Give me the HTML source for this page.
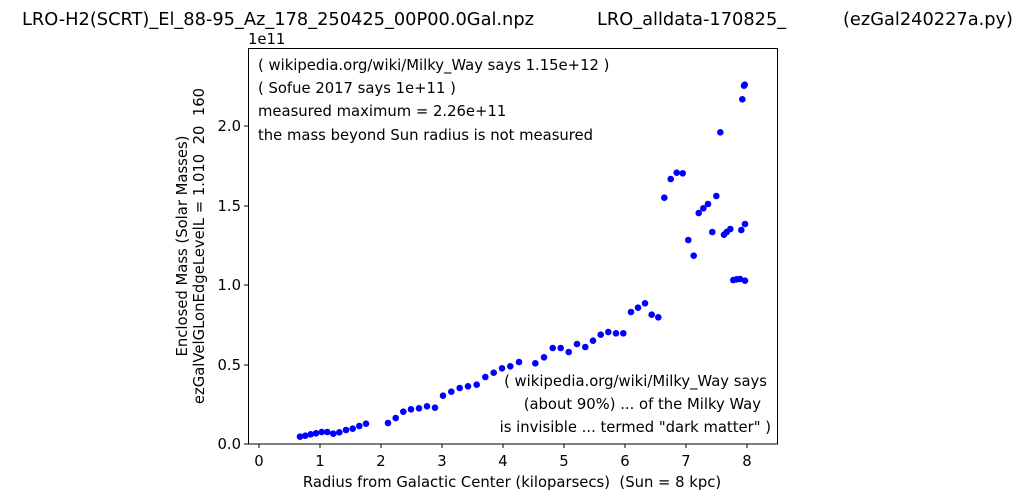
<!DOCTYPE html>
<html><head><meta charset="utf-8"><style>body{margin:0;background:#fff}svg{display:block}text{white-space:pre}</style></head><body>
<svg width="1024" height="501" xmlns="http://www.w3.org/2000/svg" font-family="DejaVu Sans, Liberation Sans, sans-serif" xml:space="preserve">
<rect width="1024" height="501" fill="#fff"/>
<text x="22" y="25" font-size="17.8">LRO-H2(SCRT)_El_88-95_Az_178_250425_00P00.0Gal.npz</text>
<text x="597" y="25" font-size="17.8">LRO_alldata-170825_</text>
<text x="843" y="25" font-size="17.8">(ezGal240227a.py)</text>
<rect x="248.5" y="48.5" width="529" height="395.5" fill="none" stroke="#000" stroke-width="1"/>
<g stroke="#000" stroke-width="1">
<line x1="259" y1="444" x2="259" y2="448"/><line x1="320" y1="444" x2="320" y2="448"/><line x1="381" y1="444" x2="381" y2="448"/><line x1="442" y1="444" x2="442" y2="448"/><line x1="503" y1="444" x2="503" y2="448"/><line x1="564" y1="444" x2="564" y2="448"/><line x1="625" y1="444" x2="625" y2="448"/><line x1="686" y1="444" x2="686" y2="448"/><line x1="747" y1="444" x2="747" y2="448"/>
<line x1="244" y1="444" x2="248" y2="444"/><line x1="244" y1="365" x2="248" y2="365"/><line x1="244" y1="285" x2="248" y2="285"/><line x1="244" y1="206" x2="248" y2="206"/><line x1="244" y1="126" x2="248" y2="126"/>
</g>
<g font-size="14.8" text-anchor="middle">
<text x="259" y="466">0</text><text x="320" y="466">1</text><text x="381" y="466">2</text><text x="442" y="466">3</text><text x="503" y="466">4</text><text x="564" y="466">5</text><text x="625" y="466">6</text><text x="686" y="466">7</text><text x="747" y="466">8</text>
</g>
<g font-size="14.8" text-anchor="end">
<text x="241" y="449">0.0</text><text x="241" y="370">0.5</text><text x="241" y="290">1.0</text><text x="241" y="211">1.5</text><text x="241" y="131">2.0</text>
</g>
<text x="248" y="44" font-size="14.8">1e11</text>
<text x="512" y="487" font-size="14.8" text-anchor="middle">Radius from Galactic Center (kiloparsecs)  (Sun = 8 kpc)</text>
<text transform="translate(187,246) rotate(-90)" font-size="14.8" text-anchor="middle">Enclosed Mass (Solar Masses)</text>
<text transform="translate(204,246) rotate(-90)" font-size="14.8" text-anchor="middle">ezGalVelGLonEdgeLevelL = 1.010  20  160</text>
<g font-size="14.8">
<text x="258" y="70">( wikipedia.org/wiki/Milky_Way says 1.15e+12 )</text>
<text x="258" y="93">( Sofue 2017 says 1e+11 )</text>
<text x="258" y="116">measured maximum = 2.26e+11</text>
<text x="258" y="140">the mass beyond Sun radius is not measured</text>
</g>
<g font-size="14.8" text-anchor="end">
<text x="767" y="386">( wikipedia.org/wiki/Milky_Way says</text>
<text x="761" y="409">(about 90%) ... of the Milky Way</text>
<text x="771" y="432">is invisible ... termed "dark matter" )</text>
</g>
<g fill="#0000ff">
<circle cx="300" cy="436.7" r="3.3"/><circle cx="305.3" cy="435.7" r="3.3"/><circle cx="310.7" cy="434.3" r="3.3"/><circle cx="316" cy="433.3" r="3.3"/><circle cx="321.7" cy="432" r="3.3"/><circle cx="327.3" cy="432" r="3.3"/><circle cx="333.3" cy="433.7" r="3.3"/><circle cx="339.3" cy="432.3" r="3.3"/><circle cx="346" cy="430" r="3.3"/><circle cx="352.7" cy="428.7" r="3.3"/><circle cx="359.3" cy="426" r="3.3"/><circle cx="366" cy="423.7" r="3.3"/><circle cx="388" cy="423" r="3.3"/><circle cx="395.7" cy="418" r="3.3"/><circle cx="403.3" cy="411.7" r="3.3"/><circle cx="411" cy="409.3" r="3.3"/><circle cx="419" cy="408.3" r="3.3"/><circle cx="427" cy="406.3" r="3.3"/><circle cx="435" cy="407.7" r="3.3"/><circle cx="443" cy="395.7" r="3.3"/><circle cx="451.3" cy="391.7" r="3.3"/><circle cx="459.7" cy="388" r="3.3"/><circle cx="468" cy="386.3" r="3.3"/><circle cx="476.7" cy="384.7" r="3.3"/><circle cx="485.3" cy="377" r="3.3"/><circle cx="493.7" cy="372.7" r="3.3"/><circle cx="502" cy="368.3" r="3.3"/><circle cx="510.3" cy="366.3" r="3.3"/><circle cx="519" cy="362" r="3.3"/><circle cx="535.3" cy="363.3" r="3.3"/><circle cx="544" cy="357.3" r="3.3"/><circle cx="552.7" cy="348" r="3.3"/><circle cx="560.7" cy="348" r="3.3"/><circle cx="568.7" cy="352" r="3.3"/><circle cx="577" cy="344" r="3.3"/><circle cx="585.3" cy="347" r="3.3"/><circle cx="593" cy="340.7" r="3.3"/><circle cx="600.7" cy="334.7" r="3.3"/><circle cx="608.3" cy="332" r="3.3"/><circle cx="616" cy="333.3" r="3.3"/><circle cx="623.3" cy="333.3" r="3.3"/><circle cx="631" cy="312" r="3.3"/><circle cx="638" cy="307.7" r="3.3"/><circle cx="645" cy="303.3" r="3.3"/><circle cx="651.7" cy="314.7" r="3.3"/><circle cx="658.3" cy="317.3" r="3.3"/>
<circle cx="664.3" cy="197.7" r="3.3"/><circle cx="670.7" cy="179" r="3.3"/><circle cx="676.7" cy="172.7" r="3.3"/><circle cx="682.7" cy="173.3" r="3.3"/><circle cx="688.3" cy="240" r="3.3"/><circle cx="693.7" cy="255.7" r="3.3"/><circle cx="698.7" cy="213" r="3.3"/><circle cx="703.3" cy="208.3" r="3.3"/><circle cx="708" cy="204" r="3.3"/><circle cx="716.3" cy="196" r="3.3"/><circle cx="720.3" cy="132.3" r="3.3"/><circle cx="712.3" cy="232" r="3.3"/><circle cx="724" cy="234.7" r="3.3"/><circle cx="726.7" cy="232" r="3.3"/><circle cx="730.3" cy="229" r="3.3"/><circle cx="741.3" cy="230" r="3.3"/><circle cx="745" cy="224" r="3.3"/><circle cx="742.3" cy="99.3" r="3.3"/><circle cx="744" cy="85.7" r="3.3"/><circle cx="744.7" cy="84.7" r="3.3"/><circle cx="733.3" cy="280" r="3.3"/><circle cx="736.7" cy="279.3" r="3.3"/><circle cx="740" cy="279" r="3.3"/><circle cx="745" cy="280.7" r="3.3"/>
</g>
</svg>
</body></html>
